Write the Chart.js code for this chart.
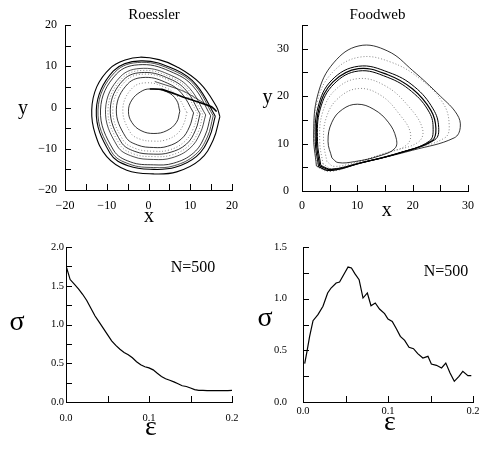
<!DOCTYPE html>
<html>
<head>
<meta charset="utf-8">
<script src="https://cdn.jsdelivr.net/npm/chart.js@4/dist/chart.umd.min.js"></script>
<style>
  body { margin: 0; background: #fff; }
  #page { position: relative; width: 481px; height: 449px; overflow: hidden; }
  canvas { position: absolute; }
</style>
</head>
<body>
<div id="page">
  <canvas id="roessler" width="240" height="225" style="left:0;top:0"></canvas>
  <canvas id="foodweb" width="241" height="225" style="left:240px;top:0"></canvas>
  <canvas id="sigmaR" width="240" height="224" style="left:0;top:225px"></canvas>
  <canvas id="sigmaF" width="241" height="224" style="left:240px;top:225px"></canvas>
</div>
<script>
// Roessler attractor, rings (x, y)
const rsInner = [[7.5,-0.9],[6.7,1.8],[4.4,3.8],[0.3,4.5],[-1.9,3.8],[-4.0,1.8],[-4.8,-0.9],[-4.0,-3.6],[-1.8,-5.6],[1.3,-6.3],[4.4,-5.6],[6.7,-3.6]];
const rsRing50 = [[9.2,-1.2],[6.8,2.85],[4.0,4.85],[-0.35,6.0],[-3.95,4.65],[-6.15,-0.4],[-4.35,-6.05],[-1.95,-7.7],[1.2,-8.15],[4.0,-7.9],[6.8,-6.45],[8.4,-4.05]];
const rsRing60 = [[10.8,-1.3],[7.9,3.5],[4.55,5.9],[-0.7,7.3],[-5.0,5.7],[-7.7,-0.4],[-5.5,-7.1],[-2.6,-9.1],[1.2,-9.7],[4.55,-9.4],[7.9,-7.6],[9.8,-4.7]];
const rsRing66 = [[11.75,-1.45],[8.55,3.9],[4.95,6.55],[-0.85,8.1],[-5.6,6.3],[-8.55,-0.4],[-6.15,-7.8],[-2.95,-10.0],[1.2,-10.6],[4.95,-10.3],[8.55,-8.35],[10.7,-5.2]];
const rsRing70 = [[12.35,-1.55],[9.05,4.1],[5.15,6.9],[-1.0,8.5],[-6.05,6.65],[-9.15,-0.4],[-6.6,-8.3],[-3.25,-10.65],[1.2,-11.3],[5.15,-10.9],[9.05,-8.9],[11.25,-5.5]];
const rsRing74 = [[13.0,-1.65],[9.5,4.35],[5.4,7.3],[-1.1,9.0],[-6.4,7.0],[-9.7,-0.5],[-7.0,-8.8],[-3.45,-11.3],[1.2,-11.9],[5.4,-11.55],[9.5,-9.4],[11.9,-5.9]];
const rsRing78 = [[13.7,-1.8],[9.9,4.6],[5.6,7.7],[-1.2,9.5],[-6.8,7.4],[-10.3,-0.5],[-7.5,-9.3],[-3.7,-11.9],[1.2,-12.6],[5.6,-12.2],[9.9,-9.9],[12.4,-6.2]];
const rsRing86 = [[14.9,-2.0],[10.8,5.0],[6.0,8.4],[-1.5,10.4],[-7.7,8.1],[-11.5,-0.6],[-8.4,-10.3],[-4.3,-13.2],[1.2,-13.9],[6.0,-13.5],[10.8,-11.0],[13.5,-6.9]];
const rsRing90 = [[15.5,-2.0],[11.2,5.25],[6.2,8.85],[-1.65,10.95],[-8.1,8.5],[-12.1,-0.6],[-8.85,-10.75],[-4.5,-13.75],[1.2,-14.55],[6.2,-14.1],[11.2,-11.45],[14.1,-7.15]];
const rsRing93 = [[16.0,-2.1],[11.5,5.45],[6.4,9.2],[-1.8,11.3],[-8.45,8.8],[-12.5,-0.6],[-9.2,-11.1],[-4.7,-14.2],[1.2,-15.0],[6.4,-14.5],[11.5,-11.85],[14.5,-7.4]];
const rsOuter = [[17.1,-2.2],[16.3,0.2],[12.3,5.9],[6.75,9.9],[2.5,11.6],[-2.0,12.2],[-5.6,11.5],[-9.2,9.5],[-12.4,5.0],[-13.6,-0.6],[-12.8,-6.3],[-10.0,-11.9],[-5.2,-15.2],[1.15,-16.1],[6.75,-15.6],[12.3,-12.7],[15.5,-7.9]];
const rsFold = [[16.3,-1.0],[15.1,0.2],[9.0,2.3],[3.2,4.4],[0.3,4.5]];
const rsFoldUpper = [[15.3,-0.2],[8.5,3.9],[1.5,6.3]];

// Foodweb attractor rings (x, y)
const fwInner = [[5.4,7.0],[4.7,10.5],[5.4,14.5],[7.3,17.2],[10.0,18.3],[13.0,17.2],[15.6,14.5],[17.0,11.2],[16.8,9.0],[14.0,7.4],[9.5,6.2],[6.5,6.0]];
const fwRing2 = [[4.5,6.2],[3.9,10.5],[4.4,15.5],[6.5,19.5],[10.2,21.6],[14.2,20.2],[17.6,16.2],[19.6,12.2],[18.8,9.6],[14.5,7.8],[9.5,6.0],[5.8,5.2]];
const fwRing3 = [[3.8,5.7],[3.2,10.5],[3.7,16.5],[6.0,21.3],[10.2,23.7],[15.0,22.2],[19.3,17.8],[21.8,13.0],[21.0,10.3],[16.0,8.3],[10.0,6.0],[5.5,4.7]];
const fwDenseA = [[3.2,5.3],[2.6,10.5],[3.1,17.5],[5.6,23.0],[10.2,25.8],[15.5,24.5],[20.0,21.5],[23.3,17.0],[24.2,13.2],[23.5,10.6],[17.5,8.0],[10.5,5.9],[5.2,4.5]];
const fwDenseB = [[3.4,5.4],[2.8,10.5],[3.3,17.3],[5.8,22.6],[10.2,25.3],[15.4,24.0],[19.8,21.0],[23.0,16.6],[23.7,13.0],[23.0,10.5],[17.3,7.9],[10.4,5.9],[5.3,4.6]];
const fwDenseC = [[3.0,5.1],[2.4,10.5],[2.9,17.7],[5.4,23.4],[10.2,26.3],[15.7,25.0],[20.3,22.0],[23.7,17.3],[24.7,13.4],[24.0,10.8],[17.8,8.1],[10.6,5.9],[5.1,4.3]];
const fwRing5 = [[2.8,5.0],[2.2,11.0],[2.8,19.0],[5.5,25.0],[10.3,28.2],[16.0,27.2],[21.5,23.5],[25.5,18.5],[26.6,14.0],[25.8,11.2],[18.5,8.4],[10.7,5.9],[5.0,4.1]];
const fwOuter = [[2.6,5.3],[2.1,12.0],[2.9,20.5],[5.7,27.0],[10.3,30.6],[15.5,29.5],[20.0,25.4],[25.0,20.0],[28.0,16.2],[28.6,13.4],[27.5,11.2],[20.0,8.6],[11.0,6.0],[5.0,4.3]];

// sigma vs epsilon, N=500
const epsRoessler = [0,0.005,0.01,0.015,0.02,0.025,0.03,0.035,0.04,0.045,0.05,0.055,0.06,0.065,0.07,0.075,0.08,0.085,0.09,0.095,0.1,0.105,0.11,0.115,0.12,0.125,0.13,0.135,0.14,0.145,0.15,0.155,0.16,0.165,0.17,0.175,0.18,0.185,0.19,0.195,0.2];
const sigmaRoessler = [1.76,1.58,1.52,1.46,1.39,1.31,1.21,1.11,1.03,0.95,0.87,0.79,0.73,0.68,0.64,0.61,0.57,0.52,0.48,0.455,0.44,0.415,0.37,0.33,0.30,0.28,0.26,0.235,0.21,0.20,0.18,0.16,0.15,0.15,0.148,0.147,0.146,0.146,0.147,0.147,0.15];
const epsFoodweb = [0.002,0.0047,0.0078,0.0118,0.0176,0.0235,0.029,0.033,0.039,0.043,0.049,0.053,0.057,0.061,0.066,0.0706,0.0757,0.080,0.085,0.090,0.096,0.100,0.105,0.110,0.1145,0.1196,0.1247,0.130,0.135,0.141,0.147,0.151,0.157,0.163,0.168,0.173,0.178,0.1835,0.188,0.194,0.198];
const sigmaFoodweb = [0.371,0.49,0.635,0.787,0.845,0.926,1.055,1.103,1.152,1.161,1.248,1.306,1.297,1.242,1.184,1.006,1.055,0.932,0.958,0.90,0.855,0.803,0.78,0.706,0.635,0.597,0.529,0.516,0.468,0.426,0.442,0.368,0.355,0.329,0.377,0.281,0.2,0.248,0.297,0.255,0.255];

const SERIF = "'Liberation Serif', 'Times New Roman', serif";

// short tick marks drawn inside the plot area
const inwardTicks = {
    id: 'inwardTicks',
    afterDraw(chart, args, opts) {
        const { ctx, chartArea: a } = chart;
        const xs = chart.scales.x, ys = chart.scales.y;
        ctx.save();
        ctx.strokeStyle = '#000';
        ctx.lineWidth = 1;
        ctx.beginPath();
        xs.ticks.forEach(t => {
            const px = Math.round(xs.getPixelForValue(t.value)) + 0.5;
            ctx.moveTo(px, a.bottom);
            ctx.lineTo(px, a.bottom - opts.len);
        });
        ys.ticks.forEach(t => {
            const py = Math.round(ys.getPixelForValue(t.value)) + 0.5;
            ctx.moveTo(a.left, py);
            ctx.lineTo(a.left + opts.len, py);
        });
        ctx.stroke();
        ctx.restore();
    }
};

// titles, axis letters and the N=500 note
const panelText = {
    id: 'panelText',
    afterDraw(chart, args, opts) {
        const ctx = chart.ctx;
        ctx.save();
        ctx.fillStyle = '#000';
        ctx.textAlign = 'center';
        ctx.textBaseline = 'middle';
        (opts.items || []).forEach(it => {
            ctx.font = it.font;
            ctx.fillText(it.text, it.x, it.y);
        });
        ctx.restore();
    }
};

function axis(a, dir) {
    return {
        type: 'linear',
        min: a.min,
        max: a.max,
        ticks: {
            stepSize: a.step,
            autoSkip: false,
            maxRotation: 0,
            padding: a.pad,
            color: '#000',
            font: { family: SERIF, size: a.fontSize },
            callback: a.label
        },
        grid: { display: false, drawTicks: false },
        border: { display: true, color: '#000', width: 1 },
        afterFit: s => {
            // fixed axis size; label overflow is covered by the layout padding
            if (dir === 'x') {
                s.height = a.size;
                s.paddingLeft = 0;
                s.paddingRight = 0;
            } else {
                s.width = a.size;
                s.paddingTop = 0;
                s.paddingBottom = 0;
            }
        }
    };
}

function toPoints(pairs, close) {
    const pts = pairs.map(p => ({ x: p[0], y: p[1] }));
    if (close) pts.push({ x: pairs[0][0], y: pairs[0][1] });
    return pts;
}

function trace(pairs, style) {
    return Object.assign({
        data: toPoints(pairs, style.close !== false),
        showLine: true,
        borderColor: '#000',
        borderWidth: 0.8,
        pointRadius: 0,
        tension: 0.4,
        fill: false
    }, style);
}

function makePanel(id, p) {
    return new Chart(document.getElementById(id), {
        type: 'scatter',
        data: { datasets: p.datasets },
        options: {
            responsive: false,
            animation: false,
            events: [],
            layout: { padding: { left: 0, top: p.top, right: p.right, bottom: 0 } },
            plugins: {
                legend: { display: false },
                tooltip: { enabled: false },
                inwardTicks: { len: 6 },
                panelText: { items: p.texts }
            },
            scales: { x: axis(p.x, 'x'), y: axis(p.y, 'y') }
        },
        plugins: [inwardTicks, panelText]
    });
}

const minus = v => String(v).replace('-', '\u2212');
const every10 = v => (v % 10 === 0 ? minus(v) : '');
const tenths = v => (Math.abs(v * 10 - Math.round(v * 10)) < 1e-6 ? v.toFixed(1) : '');
const halves = v => (Math.abs(v * 2 - Math.round(v * 2)) < 1e-6 ? v.toFixed(1) : '');

const dashed = { borderDash: [1, 2], borderColor: '#555', borderWidth: 0.7 };

makePanel('roessler', {
    top: 25, right: 8,
    x: { min: -20, max: 20, step: 5, pad: 9, fontSize: 12, size: 35, label: every10 },
    y: { min: -20, max: 20, step: 5, pad: 8, fontSize: 12, size: 65, label: every10 },
    datasets: [
        trace(rsInner, {}),
        trace(rsRing50, dashed),
        trace(rsRing60, {}),
        trace(rsRing66, dashed),
        trace(rsRing70, {}),
        trace(rsRing74, dashed),
        trace(rsRing78, { borderWidth: 0.7 }),
        trace(rsRing86, {}),
        trace(rsRing90, { borderWidth: 0.7 }),
        trace(rsRing93, { borderWidth: 1.1 }),
        trace(rsOuter, { borderWidth: 1.1 }),
        trace(rsFold, { close: false, tension: 0.2, borderWidth: 1.6 }),
        trace(rsFoldUpper, { close: false, tension: 0.2, borderWidth: 0.7 })
    ],
    texts: [
        { text: 'Roessler', x: 154, y: 15.5, font: '15px ' + SERIF },
        { text: 'y', x: 23, y: 109, font: '20px ' + SERIF },
        { text: 'x', x: 149, y: 216.5, font: '20px ' + SERIF }
    ]
});

makePanel('foodweb', {
    top: 25, right: 13,
    x: { min: 0, max: 30, step: 5, pad: 8, fontSize: 12, size: 34, label: every10 },
    y: { min: 0, max: 35, step: 5, pad: 13, fontSize: 12, size: 62, label: every10 },
    datasets: [
        trace(fwInner, {}),
        trace(fwRing2, dashed),
        trace(fwRing3, dashed),
        trace(fwDenseB, { borderWidth: 1 }),
        trace(fwDenseA, { borderWidth: 1.2 }),
        trace(fwDenseC, { borderWidth: 1 }),
        trace(fwRing5, dashed),
        trace(fwOuter, { borderWidth: 0.8 })
    ],
    texts: [
        { text: 'Foodweb', x: 137.5, y: 15, font: '15px ' + SERIF },
        { text: 'y', x: 27.5, y: 98, font: '20px ' + SERIF },
        { text: 'x', x: 146.7, y: 210.5, font: '20px ' + SERIF }
    ]
});

makePanel('sigmaR', {
    top: 22, right: 8,
    x: { min: 0, max: 0.2, step: 0.05, pad: 10, fontSize: 10.5, size: 47, label: tenths },
    y: { min: 0, max: 2, step: 0.25, pad: 2, fontSize: 10.5, size: 66, label: halves },
    datasets: [
        trace(epsRoessler.map((e, i) => [e, sigmaRoessler[i]]), { close: false, tension: 0, borderWidth: 1.2 })
    ],
    texts: [
        { text: 'N=500', x: 193, y: 43, font: '16px ' + SERIF },
        { text: '\u03c3', x: 17, y: 98, font: '28px ' + SERIF },
        { text: '\u03b5', x: 151, y: 203, font: '28px ' + SERIF }
    ]
});

makePanel('sigmaF', {
    top: 22, right: 8,
    x: { min: 0, max: 0.2, step: 0.05, pad: 3, fontSize: 10.5, size: 47, label: tenths },
    y: { min: 0, max: 1.5, step: 0.25, pad: 16, fontSize: 10.5, size: 63, label: halves },
    datasets: [
        trace(epsFoodweb.map((e, i) => [e, sigmaFoodweb[i]]), { close: false, tension: 0, borderWidth: 1.2 })
    ],
    texts: [
        { text: 'N=500', x: 206, y: 47, font: '16px ' + SERIF },
        { text: '\u03c3', x: 25, y: 94, font: '28px ' + SERIF },
        { text: '\u03b5', x: 150, y: 198, font: '28px ' + SERIF }
    ]
});
</script>
</body>
</html>
